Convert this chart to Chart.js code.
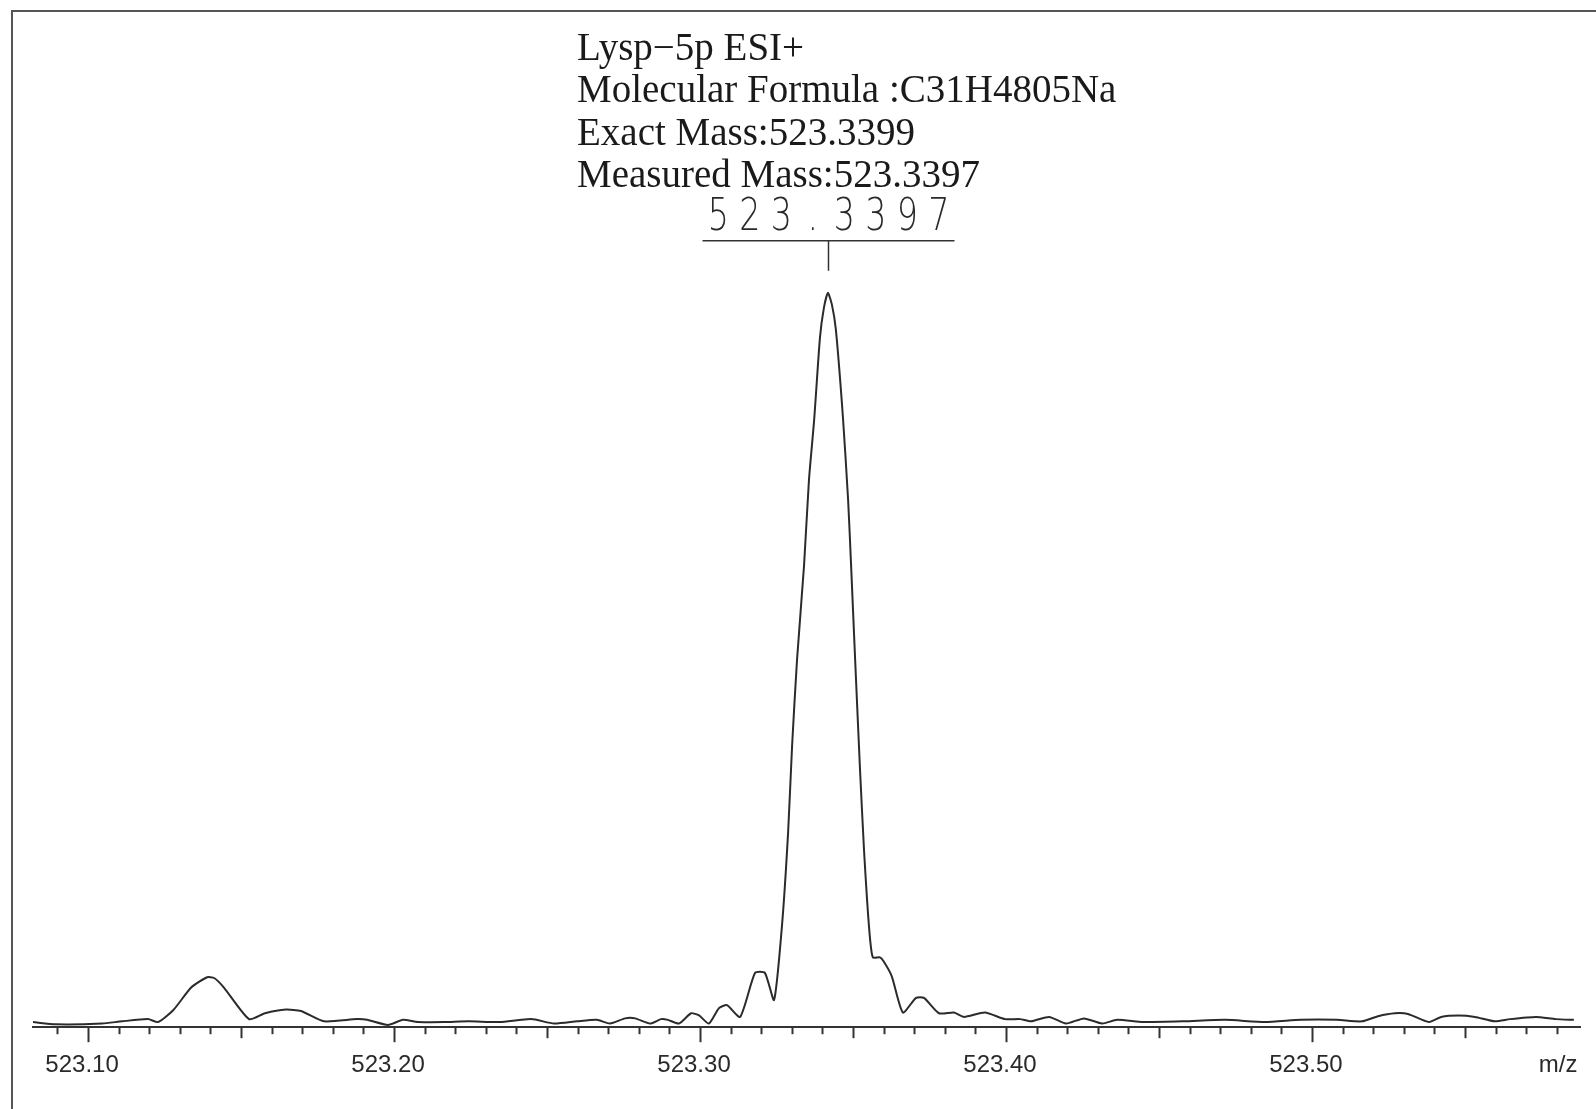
<!DOCTYPE html>
<html>
<head>
<meta charset="utf-8">
<script src="https://cdn.jsdelivr.net/npm/chart.js@4.4.0/dist/chart.umd.min.js"></script>
<style>
    html, body { margin: 0; padding: 0; background: #fff; }
    #wrap { position: relative; width: 1596px; height: 1109px; }
    #frame {
        position: absolute; left: 11px; top: 10px; right: 0; bottom: 0;
        border-top: 2px solid #555; border-left: 2px solid #555;
        pointer-events: none;
    }
    canvas { position: absolute; left: 0; top: 0; }
</style>
</head>
<body>
<div id="wrap">
    <canvas id="spectrum" width="1596" height="1109"></canvas>
    <div id="frame"></div>
</div>
<script>
// m/z of each sampled point of the profile
const mzValues = [
    523.0820, 523.0895, 523.1046, 523.1111, 523.1196, 523.1229, 523.1278, 523.1337, 523.1389, 523.1412,
    523.1444, 523.1526, 523.1578, 523.1647, 523.1696, 523.1771, 523.1879, 523.1912, 523.1980, 523.2029,
    523.2078, 523.2163, 523.2245, 523.2346, 523.2448, 523.2523, 523.2598, 523.2663, 523.2706, 523.2755,
    523.2788, 523.2837, 523.2873, 523.2895, 523.2931, 523.2971, 523.2997, 523.3029, 523.3062, 523.3088,
    523.3131, 523.3180, 523.3212, 523.3242, 523.3268, 523.3288, 523.3301, 523.3317, 523.3340, 523.3356,
    523.3373, 523.3392, 523.3405, 523.3418, 523.3431, 523.3444, 523.3467, 523.3484, 523.3493, 523.3507,
    523.3523, 523.3536, 523.3546, 523.3556, 523.3565, 523.3588, 523.3601, 523.3627, 523.3663, 523.3706,
    523.3732, 523.3781, 523.3830, 523.3863, 523.3931, 523.3997, 523.4046, 523.4082, 523.4141, 523.4196,
    523.4255, 523.4314, 523.4363, 523.4448, 523.4582, 523.4716, 523.4846, 523.4964, 523.5082, 523.5163,
    523.5216, 523.5271, 523.5314, 523.5382, 523.5422, 523.5480, 523.5533, 523.5598, 523.5647, 523.5732,
    523.5797, 523.5856
];

// relative intensity (%)
const intensityValues = [
    0.7, 0.4, 0.5, 0.8, 1.1, 0.7, 2.3, 5.4, 6.8, 6.7,
    5.4, 1.1, 1.9, 2.4, 2.2, 0.8, 1.1, 1.0, 0.3, 1.0,
    0.7, 0.7, 0.8, 0.7, 1.1, 0.5, 0.8, 1.0, 0.5, 1.2,
    1.2, 0.5, 1.1, 1.0, 0.5, 1.9, 1.6, 0.5, 2.6, 3.0,
    1.4, 7.4, 7.4, 3.7, 13.9, 26.6, 38.4, 50.0, 62.9, 74.5,
    82.7, 93.9, 98.0, 100.0, 98.4, 95.0, 83.1, 71.8, 63.6, 50.0,
    35.0, 24.1, 17.3, 11.9, 9.5, 9.5, 8.9, 6.9, 2.0, 4.0,
    4.0, 1.9, 2.0, 1.4, 2.0, 1.1, 1.1, 0.8, 1.4, 0.5,
    1.2, 0.5, 1.0, 0.7, 0.8, 1.0, 0.7, 1.0, 1.0, 0.8,
    1.5, 1.9, 1.8, 0.7, 1.4, 1.6, 1.4, 0.8, 1.1, 1.4,
    1.1, 1.0
];

const tickValues = [523.10, 523.20, 523.30, 523.40, 523.50];
const unitPosition = 523.5824;
const unitLabel = 'm/z';
const xMin = 523.082;
const xMax = 523.5876;
const firstMinorTick = 523.09;
const minorStep = 0.01;

const infoLines = [
    'Lysp\u22125p ESI+',
    'Molecular Formula :C31H4805Na',
    'Exact Mass:523.3399',
    'Measured Mass:523.3397'
];
const peakLabel = '523.3397';

const labelFont = '24px "Liberation Sans"';


const tickMarks = {
    id: 'tickMarks',
    afterDraw(chart) {
        const scale = chart.scales.x;
        const ctx = chart.ctx;
        const y0 = chart.chartArea.bottom;
        ctx.save();
        ctx.strokeStyle = '#333';
        ctx.lineWidth = 2;
        for (let i = 0; ; i++) {
            const v = firstMinorTick + i * minorStep;
            if (v > xMax) break;
            const k = Math.round(v * 100);
            const len = k % 10 === 0 ? 15 : (k % 5 === 0 ? 11 : 7);
            const px = Math.round(scale.getPixelForValue(v)) + 0.5;
            ctx.beginPath();
            ctx.moveTo(px, y0);
            ctx.lineTo(px, y0 + len);
            ctx.stroke();
        }

        // unit at the right end of the axis
        ctx.fillStyle = '#2a2a2a';
        ctx.font = labelFont;
        ctx.textAlign = 'center';
        ctx.textBaseline = 'middle';
        ctx.fillText(unitLabel, scale.getPixelForValue(unitPosition) - 6, y0 + 38.4);
        ctx.restore();
    }
};


const annotations = {
    id: 'annotations',
    afterDraw(chart) {
        const ctx = chart.ctx;
        ctx.save();

        // header block
        ctx.fillStyle = '#1a1a1a';
        ctx.font = '39px "Liberation Serif"';
        ctx.textBaseline = 'alphabetic';
        ctx.textAlign = 'left';
        infoLines.forEach((line, i) => {
            ctx.fillText(line, 577, 60 + i * 42.4);
        });

        // peak marker
        let top = 0;
        intensityValues.forEach((v, i) => { if (v > intensityValues[top]) top = i; });
        const px = Math.round(chart.scales.x.getPixelForValue(mzValues[top])) + 0.5;
        const py = chart.scales.y.getPixelForValue(intensityValues[top]);

        ctx.strokeStyle = '#333';
        ctx.lineWidth = 1.5;
        ctx.beginPath();
        ctx.moveTo(px, py - 22);
        ctx.lineTo(px, py - 52);
        ctx.moveTo(px - 126, py - 52);
        ctx.lineTo(px + 126, py - 52);
        ctx.stroke();

        ctx.fillStyle = '#2a2a2a';
        ctx.font = '200 45px "DejaVu Sans"';
        ctx.textAlign = 'center';
        const pitch = 31.5;
        const n = peakLabel.length;
        for (let i = 0; i < n; i++) {
            const cx = px + (i - (n - 1) / 2) * pitch;
            ctx.save();
            ctx.translate(cx, py - 63);
            ctx.scale(0.74, 1);
            ctx.fillText(peakLabel[i], 0, 0);
            ctx.restore();
        }
        ctx.restore();
    }
};


const ctx = document.getElementById('spectrum');
new Chart(ctx, {
    type: 'line',
    data: {
        datasets: [{
            data: mzValues.map((mz, i) => ({ x: mz, y: intensityValues[i] })),
            borderColor: '#2b2b2b',
            borderWidth: 2,
            pointRadius: 0,
            tension: 0.2,
            fill: false
        }]
    },
    options: {
        responsive: false,
        animation: false,
        layout: {
            padding: { left: 33, right: 16, top: 146, bottom: 29 }
        },
        plugins: {
            legend: { display: false },
            tooltip: { enabled: false }
        },
        scales: {
            x: {
                type: 'linear',
                min: xMin,
                max: xMax,
                afterBuildTicks: (scale) => {
                    scale.ticks = tickValues.map(v => ({ value: v }));
                },
                grid: {
                    display: true,
                    drawOnChartArea: false,
                    drawTicks: true,
                    tickLength: 24,
                    color: 'rgba(0,0,0,0)'
                },
                border: { display: true, color: '#333', width: 2 },
                ticks: {
                    autoSkip: false,
                    maxRotation: 0,
                    padding: 0,
                    labelOffset: -6,
                    color: '#2a2a2a',
                    font: { family: '"Liberation Sans"', size: 24 },
                    callback: function(value) {
                        return value.toFixed(2);
                    }
                }
            },
            y: {
                display: false,
                min: 0,
                max: 120
            }
        }
    },
    plugins: [tickMarks, annotations]
});
</script>
</body>
</html>
